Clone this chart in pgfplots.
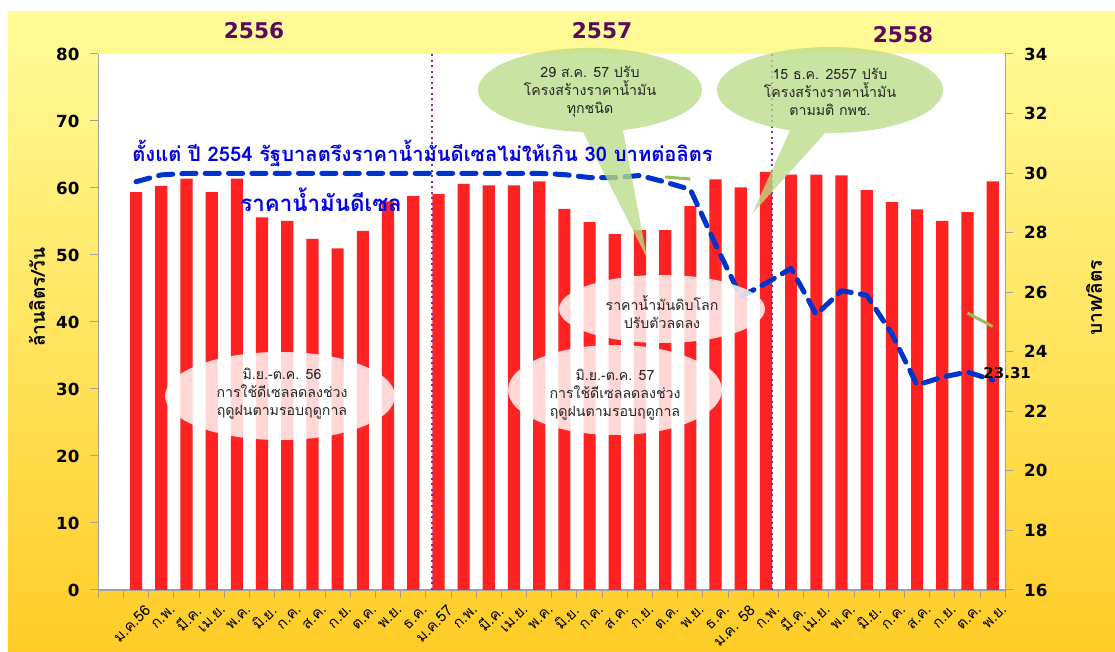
\documentclass[border=0pt]{standalone}
\usepackage{fontspec}
\setmainfont[Script=Thai]{Loma}
\newfontfamily\numfont{DejaVu Sans}
\usepackage{pgfplots}
\pgfplotsset{compat=1.18}
\definecolor{barred}{RGB}{255,34,34}
\definecolor{lineblue}{RGB}{0,51,204}
\definecolor{txtblue}{RGB}{0,0,230}
\definecolor{yr}{RGB}{90,10,90}
\definecolor{callg}{RGB}{186,220,138}
\definecolor{segg}{RGB}{155,187,89}
\definecolor{dotp}{RGB}{112,48,160}
\definecolor{bgtop}{RGB}{255,252,153}
\definecolor{bgbot}{RGB}{255,204,38}
\definecolor{axgray}{RGB}{160,160,160}
\definecolor{txtdark}{RGB}{38,38,38}
\begin{document}
\begin{tikzpicture}
% background in px coordinates (y downward)
\begin{scope}[x=0.6pt,y=-0.6pt,yshift=391.2pt]
\fill[white] (0,0) rectangle (1115,652);
\shade[top color=bgtop, bottom color=bgbot] (8,12) rectangle (1115,652);
\end{scope}

\begin{axis}[at={(58.98pt,37.2pt)}, anchor=south west, scale only axis,
  width=544.2pt, height=321.6pt,
  xmin=-0.5, xmax=35.5, ymin=0, ymax=80, ytick={0,10,...,80},
  axis background/.style={fill=white},
  axis x line*=bottom, axis y line*=left,
  axis line style={-, draw=axgray, line width=0.8pt},
  tick align=outside, tick style={draw=axgray, line width=0.6pt},
  major tick length=4.8pt, minor tick length=4.8pt,
  xtick={1,...,35}, major x tick style={draw=none},
  minor xtick={-0.5,0.5,...,35.5},
  xticklabels={ม.ค.56,ก.พ.,มี.ค.,เม.ย.,พ.ค.,มิ.ย.,ก.ค.,ส.ค.,ก.ย.,ต.ค.,พ.ย.,ธ.ค.,ม.ค.57,ก.พ.,มี.ค.,เม.ย.,พ.ค.,มิ.ย.,ก.ค.,ส.ค.,ก.ย.,ต.ค.,พ.ย.,ธ.ค.,ม.ค. 58,ก.พ.,มี.ค.,เม.ย.,พ.ค.,มิ.ย.,ก.ค.,ส.ค.,ก.ย.,ต.ค.,พ.ย.},
  xticklabel style={rotate=45, anchor=east, inner sep=0pt, yshift=-9pt, xshift=1pt, font=\fontsize{9}{10}\selectfont},
  /pgf/number format/assume math mode=true,
  yticklabel style={font=\numfont\bfseries\fontsize{10}{12}\selectfont, xshift=-3pt},
  clip=false]
\addplot[ybar, bar width=7.3pt, fill=barred, draw=none] coordinates {
(1,59.4)(2,60.3)(3,61.4)(4,59.4)(5,61.4)(6,55.6)(7,55.1)(8,52.4)(9,51.0)(10,53.6)(11,58.0)(12,58.8)
(13,59.1)(14,60.6)(15,60.4)(16,60.4)(17,61.0)(18,56.9)(19,54.9)(20,53.1)(21,53.7)(22,53.7)(23,57.3)(24,61.3)
(25,60.1)(26,62.4)(27,62.0)(28,62.0)(29,61.9)(30,59.7)(31,57.9)(32,56.8)(33,55.1)(34,56.4)(35,61.0)};
\draw[dotp, line width=1.3pt, dotted] (axis cs:12.76,0) -- (axis cs:12.76,80);
\draw[dotp, line width=1.3pt, dotted] (axis cs:26.24,0) -- (axis cs:26.24,80);
\end{axis}

\begin{axis}[at={(58.98pt,37.2pt)}, anchor=south west, scale only axis,
  width=544.2pt, height=321.6pt,
  xmin=-0.5, xmax=35.5, ymin=16, ymax=34, ytick={16,18,...,34},
  axis x line=none, axis y line*=right,
  axis line style={-, draw=axgray, line width=0.8pt},
  tick align=outside, tick style={draw=axgray, line width=0.6pt},
  major tick length=4.8pt,
  /pgf/number format/assume math mode=true,
  yticklabel style={font=\numfont\bfseries\fontsize{10}{12}\selectfont, xshift=3pt},
  clip=false]
\addplot[lineblue, line width=3pt, dash pattern=on 8.5pt off 5.5pt, line cap=round, line join=round] coordinates {
(1,29.71)(2,29.94)(3,29.99)(4,29.99)(5,29.99)(6,29.99)(7,29.99)(8,29.99)(9,29.99)(10,29.99)(11,29.99)(12,29.99)
(13,29.99)(14,29.99)(15,29.99)(16,29.99)(17,29.99)(18,29.95)(19,29.85)(20,29.85)(21,29.92)(22,29.70)(23,29.45)(24,27.60)
(25,25.85)(26,26.30)(27,26.80)(28,25.25)(29,26.05)(30,25.90)(31,24.60)(32,22.88)(33,23.15)(34,23.32)(35,23.05)};
\addplot[segg, line width=1.8pt] coordinates {(22,29.87)(23,29.80)};
\addplot[segg, line width=1.8pt] coordinates {(34,25.30)(35,24.85)};
\node[anchor=west, inner sep=0pt, font=\numfont\bfseries\fontsize{9}{10}\selectfont] at (axis cs:34.62,23.30) {23.31};
\end{axis}

% annotations in px coordinates
\begin{scope}[x=0.6pt,y=-0.6pt,yshift=391.2pt]
% axis titles
\node[rotate=90, font=\bfseries\fontsize{11.5}{13}\selectfont] at (37,297) {ล้านลิตร/วัน};
\node[rotate=90, font=\bfseries\fontsize{11.5}{13}\selectfont] at (1094,298) {บาท/ลิตร};
% years
\node[yr, font=\numfont\bfseries\fontsize{13}{15}\selectfont] at (254,31) {2556};
\node[yr, font=\numfont\bfseries\fontsize{13}{15}\selectfont] at (602,31) {2557};
\node[yr, font=\numfont\bfseries\fontsize{13}{15}\selectfont] at (903,35) {2558};
% white ellipses
\fill[white, opacity=0.82] (280,396) ellipse [x radius=115, y radius=44];
\fill[white, opacity=0.82] (615,390) ellipse [x radius=107, y radius=45];
\fill[white, opacity=0.82] (662,309) ellipse [x radius=103, y radius=34];
\node[txtdark, align=center, font=\fontsize{8.5}{10.8}\selectfont] at (282,394) {มิ.ย.-ต.ค. 56\\การใช้ดีเซลลดลงช่วง\\ฤดูฝนตามรอบฤดูกาล};
\node[txtdark, align=center, font=\fontsize{8.5}{10.8}\selectfont] at (615,395) {มิ.ย.-ต.ค. 57\\การใช้ดีเซลลดลงช่วง\\ฤดูฝนตามรอบฤดูกาล};
\node[txtdark, align=center, font=\fontsize{8.5}{10.8}\selectfont] at (662,312) {ราคาน้ำมันดิบโลก\\ปรับตัวลดลง};
% green callouts
\fill[callg, opacity=0.78] (622.9,130.1) arc[start angle=72.9, end angle=-266.4, x radius=112, y radius=42] -- (647,258) -- cycle;
\fill[callg, opacity=0.78] (825.1,133.0) arc[start angle=92.5, end angle=-249.3, x radius=113, y radius=43] -- (752,214) -- cycle;
\node[txtdark, align=center, font=\fontsize{8.5}{10.8}\selectfont] at (590,92) {29 ส.ค. 57 ปรับ\\โครงสร้างราคาน้ำมัน\\ทุกชนิด};
\node[txtdark, align=center, font=\fontsize{8.5}{10.8}\selectfont] at (830,92) {15 ธ.ค. 2557 ปรับ\\โครงสร้างราคาน้ำมัน\\ตามมติ กพช.};
% blue texts
\node[txtblue, anchor=west, inner sep=0pt, font=\bfseries\fontsize{12.1}{14}\selectfont] at (132,153) {ตั้งแต่ ปี 2554 รัฐบาลตรึงราคาน้ำมันดีเซลไม่ให้เกิน 30 บาทต่อลิตร};
\node[txtblue, anchor=west, inner sep=0pt, font=\bfseries\fontsize{13.4}{15}\selectfont] at (240,200) {ราคาน้ำมันดีเซล};
\end{scope}
\end{tikzpicture}
\end{document}
